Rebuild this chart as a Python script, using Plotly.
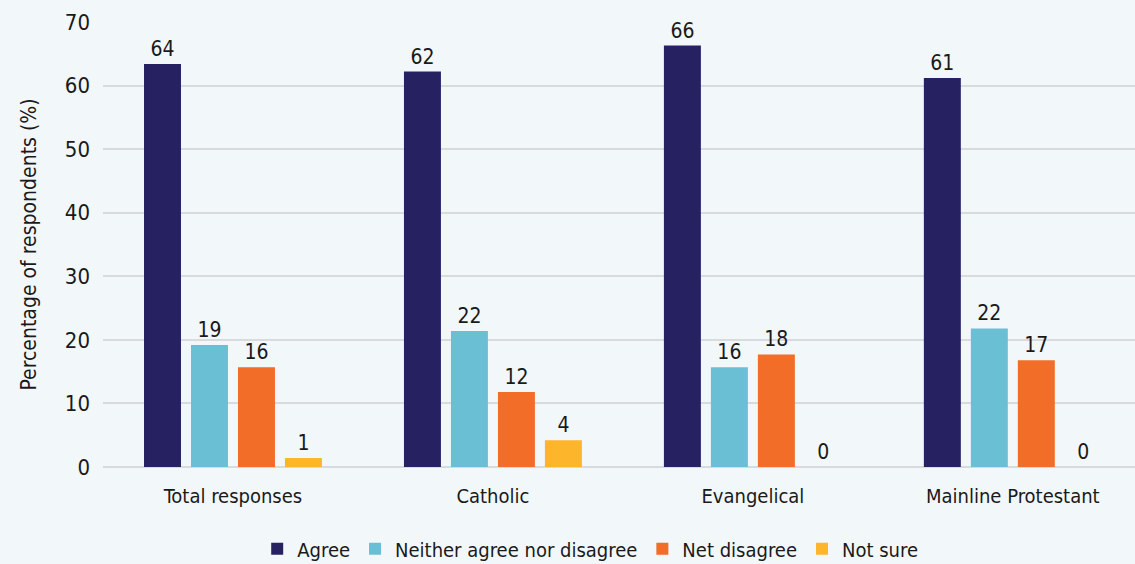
import plotly.graph_objects as go

categories = ["Total responses", "Catholic", "Evangelical", "Mainline Protestant"]
agree = [63.4, 62.2, 66.3, 61.2]
neither = [19.2, 21.4, 15.7, 21.8]
net_disagree = [15.7, 11.8, 17.7, 16.8]
not_sure = [1.4, 4.2, 0, 0]
agree_lbl = ["64", "62", "66", "61"]
neither_lbl = ["19", "22", "16", "22"]
net_lbl = ["16", "12", "18", "17"]
notsure_lbl = ["1", "4", "0", "0"]
series_names = ["Agree", "Neither agree nor disagree", "Net disagree", "Not sure"]
colors = ["#262262", "#6bbfd4", "#f26d27", "#fdb52b"]

FONT = "Liberation Sans Narrow, DejaVu Sans Condensed, Arial Narrow, sans-serif"

fig = go.Figure()
for name, vals, lbls, col in zip(series_names, [agree, neither, net_disagree, not_sure],
                                 [agree_lbl, neither_lbl, net_lbl, notsure_lbl], colors):
    fig.add_trace(go.Bar(
        x=categories, y=vals, name=name, text=lbls, texttemplate="%{text}",
        textposition="outside", cliponaxis=False,
        textfont=dict(size=21, color="#1a1a1a", family=FONT),
        marker=dict(color=col, line=dict(width=0)),
    ))

fig.update_layout(
    width=1135, height=564,
    paper_bgcolor="#f2f7fa", plot_bgcolor="#f2f7fa",
    margin=dict(l=103, r=0, t=22, b=97, autoexpand=False),
    barmode="group", bargap=0.277, bargroupgap=0.213,
    font=dict(family=FONT, size=21, color="#1a1a1a"),
    legend=dict(orientation="h", xref="container", yref="container",
                x=0.52, xanchor="center", y=0.027, yanchor="middle",
                font=dict(size=20), traceorder="normal", itemwidth=30),
    showlegend=True,
)
fig.update_xaxes(range=[-0.5, 3.47], showgrid=False, showline=False, ticks="",
                 tickfont=dict(size=20), ticklabelstandoff=15)
fig.update_yaxes(range=[0, 70], dtick=10, showgrid=True, gridcolor="#d9dadb", gridwidth=1.5,
                 zeroline=True, zerolinecolor="#d9dadb", zerolinewidth=2,
                 tickfont=dict(size=22), ticklabelstandoff=12,
                 title=dict(text="Percentage of respondents (%)", font=dict(size=21), standoff=22))

fig.write_html("out.html")
